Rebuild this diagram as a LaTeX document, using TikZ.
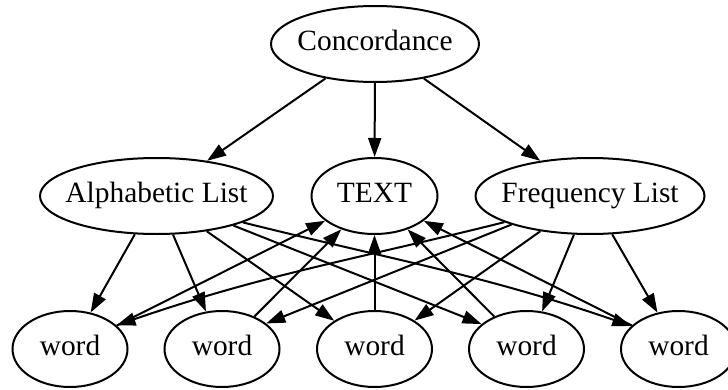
\documentclass[tikz,border=0pt]{standalone}
\usepackage{fontspec}
\setmainfont{Liberation Serif}
\usetikzlibrary{arrows.meta,shapes.geometric}
\begin{document}
\begin{tikzpicture}[x=1pt,y=1pt,
  gvnode/.style={draw, ellipse, line width=2pt, minimum height=76pt, inner sep=0pt,
    text height=20pt, text depth=6.6pt, font=\fontsize{29.4pt}{35pt}\selectfont},
  wordnode/.style={gvnode, minimum width=115pt},
  gvedge/.style={line width=2pt, -{Triangle[length=19pt,width=13pt]}}]
\useasboundingbox (0,0) rectangle (728,389);
% nodes
\node[gvnode, minimum width=208pt] (conc) at (375,345) {\makebox[0pt]{Concordance}};
\node[gvnode, minimum width=233pt] (al) at (156.5,193) {\makebox[0pt]{Alphabetic List}};
\node[gvnode, minimum width=126pt] (txt) at (374.5,193) {\makebox[0pt]{TEXT}};
\node[gvnode, minimum width=229pt] (fl) at (590,193) {\makebox[0pt]{Frequency List}};
\node[wordnode] (w1) at (70,40) {\makebox[0pt]{word}};
\node[wordnode] (w2) at (222,40) {\makebox[0pt]{word}};
\node[wordnode] (w3) at (374.5,40) {\makebox[0pt]{word}};
\node[wordnode] (w4) at (526.5,40) {\makebox[0pt]{word}};
\node[wordnode] (w5) at (678.5,40) {\makebox[0pt]{word}};
% edges from Concordance
\draw[gvedge] (conc) -- (al);
\draw[gvedge] (conc) -- (txt);
\draw[gvedge] (conc) -- (fl);
% edges from Alphabetic List
\draw[gvedge] (al) -- (w1);
\draw[gvedge] (al) -- (w2);
\draw[gvedge] (al) -- (w3);
\draw[gvedge] (al.-21) -- (w4.151);
\draw[gvedge] (al.-17) to[out=-14, in=161] (w5.154);
% edges from Frequency List
\draw[gvedge] (fl.197) to[out=194, in=19] (w1.27);
\draw[gvedge] (fl.200) -- (w2.30);
\draw[gvedge] (fl) -- (w3);
\draw[gvedge] (fl) -- (w4);
\draw[gvedge] (fl) -- (w5);
% edges from words to TEXT
\draw[gvedge] (w1) -- (txt);
\draw[gvedge] (w2) -- (txt);
\draw[gvedge] (w3) -- (txt);
\draw[gvedge] (w4) -- (txt);
\draw[gvedge] (w5) -- (txt);
\end{tikzpicture}
\end{document}
